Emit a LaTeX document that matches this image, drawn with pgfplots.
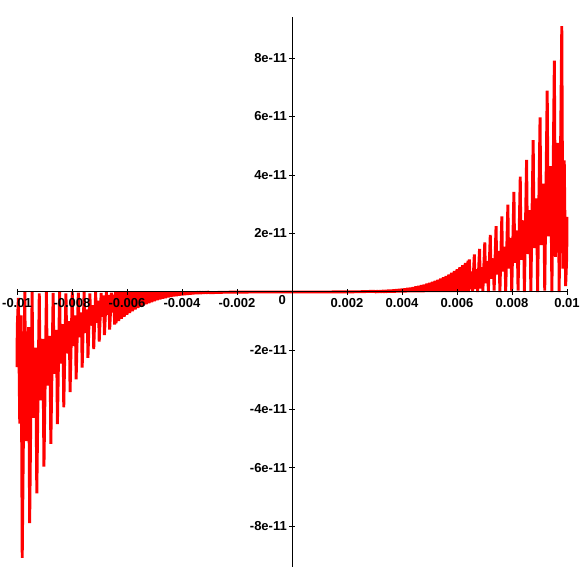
\documentclass[border=0pt]{standalone}
\usepackage{pgfplots}
\usepackage{pgfplotstable}
\pgfplotsset{compat=1.18}
\usepackage{fontspec}
\setmainfont{Liberation Sans}
% u = x in units of 1e-3, v = y in units of 1e-11
\pgfplotstableread[row sep=\\]{
u v\\
0 0\\ 1 0.0001\\ 2 0.0032\\ 2.5 0.0098\\
3.00 0.0243\\ 3.05 0\\ 3.10 0.0286\\ 3.15 0\\ 3.20 0.0336\\ 3.25 0\\ 3.30 0.0391\\ 3.35 0\\
3.40 0.0454\\ 3.45 0\\ 3.50 0.0525\\ 3.55 0\\ 3.60 0.0605\\ 3.65 0\\ 3.70 0.0693\\ 3.75 0\\
3.80 0.0792\\ 3.85 0\\ 3.90 0.0902\\ 3.95 0\\ 4.00 0.1024\\ 4.05 0\\ 4.10 0.1159\\ 4.15 0\\
4.20 0.1307\\ 4.25 0\\ 4.30 0.1470\\ 4.35 0\\ 4.40 0.1649\\ 4.45 0\\ 4.50 0.1845\\ 4.55 0\\
4.60 0.2060\\ 4.65 0\\ 4.70 0.2293\\ 4.75 0\\ 4.80 0.2548\\ 4.85 0\\ 4.90 0.2825\\ 4.95 0\\
5.00 0.3125\\ 5.05 0\\ 5.10 0.3450\\ 5.15 0\\ 5.20 0.3802\\ 5.25 0\\ 5.30 0.4182\\ 5.35 0\\
5.40 0.4592\\ 5.45 0\\ 5.50 0.5033\\ 5.55 0\\ 5.60 0.5507\\ 5.65 0\\ 5.70 0.6017\\ 5.75 0\\
5.80 0.6563\\ 5.85 0\\ 5.90 0.7149\\ 5.95 0\\ 6.00 0.7776\\ 6.05 0\\ 6.10 0.8446\\ 6.15 0\\
6.20 0.9161\\ 6.25 0\\ 6.30 0.9924\\ 6.35 0\\ 6.40 1.0737\\ 6.425 0\\
6.45 1.117\\ 6.477 0.09\\ 6.54 0.70\\ 6.567 0.02\\
6.63 1.282\\ 6.66 0.10\\ 6.725 0.78\\ 6.75 0.0\\
6.82 1.476\\ 6.85 0.12\\ 6.915 0.85\\ 6.94 0.03\\
7.01 1.693\\ 7.04 0.30\\ 7.11 1.05\\ 7.14 0.0\\
7.21 1.949\\ 7.24 0.45\\ 7.315 1.15\\ 7.35 0.05\\
7.42 2.250\\ 7.45 0.60\\ 7.525 1.40\\ 7.56 0.0\\
7.63 2.587\\ 7.66 0.70\\ 7.74 1.55\\ 7.77 0.02\\
7.85 2.982\\ 7.88 0.80\\ 7.96 1.85\\ 7.99 0.0\\
8.07 3.424\\ 8.10 1.00\\ 8.185 2.10\\ 8.22 0.05\\
8.30 3.939\\ 8.33 1.10\\ 8.415 2.45\\ 8.45 0.0\\
8.53 4.517\\ 8.565 1.30\\ 8.65 2.80\\ 8.685 0.03\\
8.77 5.189\\ 8.805 1.50\\ 8.895 3.20\\ 8.93 0.0\\
9.02 5.972\\ 9.06 1.60\\ 9.15 3.70\\ 9.19 0.05\\
9.28 6.884\\ 9.32 1.90\\ 9.41 4.30\\ 9.45 0.0\\
9.54 7.904\\ 9.58 1.20\\ 9.675 5.10\\ 9.715 0.0\\
9.81 9.086\\ 9.85 0.80\\ 9.90 4.50\\ 9.95 0.20\\ 9.99 1.20\\ 10.0 2.57\\
}\datapos
\begin{document}
\begin{tikzpicture}
\begin{axis}[
  scale only axis, width=550pt, height=550pt,
  axis lines=middle, axis line style={-, line width=1pt, black},
  xmin=-10, xmax=10, ymin=-9.4, ymax=9.4,
  xtick={-10,-8,-6,-4,-2,2,4,6,8,10},
  xticklabels={-0.01,-0.008,-0.006,-0.004,-0.002,0.002,0.004,0.006,0.008,0.01},
  ytick={-8,-6,-4,-2,2,4,6,8},
  yticklabels={-8e-11,-6e-11,-4e-11,-2e-11,2e-11,4e-11,6e-11,8e-11},
  minor x tick num=3, minor y tick num=4,
  tick align=center, major tick length=6pt, minor tick length=4pt,
  tick style={black, line width=0.8pt},
  ticklabel style={font=\fontsize{13}{14}\selectfont\bfseries, inner sep=1pt},
  xticklabel style={anchor=north, yshift=-2pt},
  yticklabel style={anchor=east, xshift=-1pt},
  axis on top, clip=false,
]
\addplot[red, line width=2.9pt, line join=bevel] table[x=u, y=v] {\datapos};
\addplot[red, line width=2.9pt, line join=bevel] table[x expr=-\thisrow{u}, y expr=-\thisrow{v}] {\datapos};
\node[anchor=north east, inner sep=0pt, font=\fontsize{13}{14}\selectfont\bfseries] at ([xshift=-6pt, yshift=-3pt]axis cs:0,0) {0};
\end{axis}
\pgfresetboundingbox
\path ([shift={(-17pt,-17pt)}]current axis.south west) rectangle ([shift={(17pt,17pt)}]current axis.north east);
\end{tikzpicture}
\end{document}
